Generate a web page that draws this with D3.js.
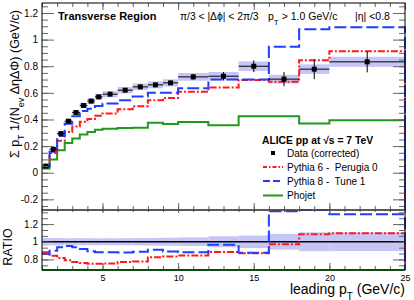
<!DOCTYPE html>
<html>
<head>
<meta charset="utf-8">
<script src="https://cdn.jsdelivr.net/npm/d3@7"></script>
<style>
body { margin: 0; background: #fff; }
text { font-family: "Liberation Sans", Arial, sans-serif; }
</style>
</head>
<body>
<div id="chart"></div>
<script>
// leading pT bin edges (GeV/c)
var edges = [1, 1.5, 2, 2.5, 3, 3.5, 4, 4.5, 5, 6, 7, 8, 9, 10, 12, 14, 16, 18, 20, 25];
var dataVal  = [0.050, 0.176, 0.294, 0.387, 0.452, 0.505, 0.538, 0.570, 0.590, 0.620, 0.645, 0.660, 0.675, 0.720, 0.725, 0.800, 0.703, 0.778, 0.833];
var dataStat = [0.001, 0.002, 0.003, 0.003, 0.004, 0.004, 0.005, 0.005, 0.005, 0.007, 0.009, 0.012, 0.015, 0.020, 0.032, 0.044, 0.054, 0.075, 0.079];
var dataSys  = [0.002, 0.007, 0.012, 0.015, 0.018, 0.020, 0.021, 0.022, 0.023, 0.024, 0.025, 0.026, 0.027, 0.029, 0.032, 0.036, 0.033, 0.036, 0.038];
var pythia6  = [0.044, 0.148, 0.240, 0.306, 0.348, 0.383, 0.404, 0.428, 0.445, 0.477, 0.500, 0.545, 0.562, 0.608, 0.640, 0.696, 0.683, 0.845, 0.913];
var pythia8  = [0.043, 0.158, 0.276, 0.368, 0.424, 0.463, 0.480, 0.502, 0.520, 0.545, 0.572, 0.600, 0.600, 0.635, 0.700, 0.700, 0.946, 1.077, 1.092];
var phojet   = [0.031, 0.100, 0.168, 0.224, 0.257, 0.287, 0.306, 0.322, 0.330, 0.336, 0.338, 0.376, 0.366, 0.381, 0.356, 0.425, 0.425, 0.370, 0.394];

var xTicks = [5, 10, 15, 20, 25];
var yTicks = [-0.2, 0, 0.2, 0.4, 0.6, 0.8, 1, 1.2];
var ratioTicks = [0.8, 1, 1.2];

var width = 414, height = 300;
var svg = d3.select("#chart").append("svg")
    .attr("width", width)
    .attr("height", height);

var x = d3.scaleLinear().domain([1, 25]).range([42, 405]);
var y = d3.scaleLinear().domain([-0.28, 1.275]).range([210, 3]);
var yr = d3.scaleLinear().domain([0.68, 1.36]).range([270, 210]);

var blue = "#1f3fff", red = "#ff1a1a", green = "#1f9a1f", band = "#c6c6f6";

function clampTo(scale, v) {
  var d = scale.domain();
  return scale(Math.max(d[0], Math.min(d[1], v)));
}

// step outline of a histogram, dropping to the frame bottom after the last bin
function stepPath(vals, scale) {
  var pts = [[x(edges[0]), clampTo(scale, vals[0])]];
  vals.forEach(function(v, i) {
    pts.push([x(edges[i + 1]), clampTo(scale, v)]);
    if (i + 1 < vals.length) pts.push([x(edges[i + 1]), clampTo(scale, vals[i + 1])]);
  });
  pts.push([x(edges[edges.length - 1]), scale.range()[0]]);
  return d3.line()(pts);
}

var bins = dataVal.map(function(v, i) {
  return { lo: edges[i], hi: edges[i + 1], v: v, stat: dataStat[i], sys: dataSys[i],
           p6: pythia6[i], p8: pythia8[i], ph: phojet[i] };
});

// ---------- top panel ----------
var topG = svg.append("g");

topG.selectAll(".sys").data(bins).enter().append("rect")
  .attr("class", "sys")
  .attr("x", function(d) { return x(d.lo); })
  .attr("width", function(d) { return x(d.hi) - x(d.lo); })
  .attr("y", function(d) { return y(d.v + d.sys); })
  .attr("height", function(d) { return y(d.v - d.sys) - y(d.v + d.sys); })
  .attr("fill", band);

var curves = [
  { key: "ph", color: green, dash: null },
  { key: "p6", color: red, dash: "7,2,2,2" },
  { key: "p8", color: blue, dash: "12,4" }
];

curves.forEach(function(c) {
  topG.append("path")
    .attr("d", stepPath(bins.map(function(d) { return d[c.key]; }), y))
    .attr("fill", "none")
    .attr("stroke", c.color)
    .attr("stroke-width", 2)
    .attr("stroke-dasharray", c.dash);
});

topG.selectAll(".hbar").data(bins).enter().append("line")
  .attr("x1", function(d) { return x(d.lo); })
  .attr("x2", function(d) { return x(d.hi); })
  .attr("y1", function(d) { return y(d.v); })
  .attr("y2", function(d) { return y(d.v); })
  .attr("stroke", "#000");

topG.selectAll(".vbar").data(bins).enter().append("line")
  .attr("x1", function(d) { return x((d.lo + d.hi) / 2); })
  .attr("x2", function(d) { return x((d.lo + d.hi) / 2); })
  .attr("y1", function(d) { return y(d.v - d.stat); })
  .attr("y2", function(d) { return y(d.v + d.stat); })
  .attr("stroke", "#000");

topG.selectAll(".pt").data(bins).enter().append("rect")
  .attr("x", function(d) { return x((d.lo + d.hi) / 2) - 2.5; })
  .attr("y", function(d) { return y(d.v) - 2.5; })
  .attr("width", 5).attr("height", 5)
  .attr("fill", "#000");

// ---------- ratio panel ----------
var ratG = svg.append("g");

ratG.selectAll(".rband").data(bins).enter().append("rect")
  .attr("x", function(d) { return x(d.lo); })
  .attr("width", function(d) { return x(d.hi) - x(d.lo); })
  .attr("y", function(d) { return yr(1 + Math.sqrt(d.stat * d.stat + d.sys * d.sys) / d.v); })
  .attr("height", function(d) {
    var e = Math.sqrt(d.stat * d.stat + d.sys * d.sys) / d.v;
    return yr(1 - e) - yr(1 + e);
  })
  .attr("fill", band);

ratG.append("line")
  .attr("x1", x(1)).attr("x2", x(25))
  .attr("y1", yr(1)).attr("y2", yr(1))
  .attr("stroke", "#000").attr("stroke-width", 1.5);

curves.forEach(function(c) {
  ratG.append("path")
    .attr("d", stepPath(bins.map(function(d) { return d[c.key] / d.v; }), yr))
    .attr("fill", "none")
    .attr("stroke", c.color)
    .attr("stroke-width", 2)
    .attr("stroke-dasharray", c.dash);
});

// ---------- axes ----------
function fmt(d) { return String(+d.toFixed(1)); }

function drawAxis(axisFn, scale, pos, values, size, labels) {
  var a = axisFn(scale).tickValues(values).tickSizeInner(-size).tickSizeOuter(0).tickPadding(4);
  a.tickFormat(labels ? fmt : "");
  var g = svg.append("g").attr("transform", pos).call(a);
  g.attr("font-family", null).attr("font-size", 10);
  g.select(".domain").remove();
  g.selectAll(".tick line").attr("stroke", "#666");
  g.selectAll(".tick text").attr("fill", "#000");
  return g;
}

var xMinor = d3.range(1, 26, 1);
var yMinor = d3.range(-0.25, 1.27, 0.05);
var rMinor = d3.range(-1, 10).map(function(k) { return 0.8 + k * 0.2 / 3; })
  .filter(function(v) { return v > 0.68 && v < 1.36; });

// top panel
drawAxis(d3.axisLeft, y, "translate(42,0)", yMinor, 6, false);
drawAxis(d3.axisLeft, y, "translate(42,0)", yTicks, 12, true);
drawAxis(d3.axisRight, y, "translate(405,0)", yMinor, 6, false);
drawAxis(d3.axisRight, y, "translate(405,0)", yTicks, 12, false);
drawAxis(d3.axisTop, x, "translate(0,3)", xMinor, 4, false);
drawAxis(d3.axisTop, x, "translate(0,3)", xTicks, 7, false);
drawAxis(d3.axisBottom, x, "translate(0,210)", xMinor, 4, false);
drawAxis(d3.axisBottom, x, "translate(0,210)", xTicks, 7, false);
// ratio panel
drawAxis(d3.axisLeft, yr, "translate(42,0)", rMinor, 6, false);
drawAxis(d3.axisLeft, yr, "translate(42,0)", ratioTicks, 12, true);
drawAxis(d3.axisRight, yr, "translate(405,0)", rMinor, 6, false);
drawAxis(d3.axisRight, yr, "translate(405,0)", ratioTicks, 12, false);
drawAxis(d3.axisTop, x, "translate(0,210)", xMinor, 2, false);
drawAxis(d3.axisTop, x, "translate(0,210)", xTicks, 3, false);
drawAxis(d3.axisBottom, x, "translate(0,270)", xMinor, 4, false);
drawAxis(d3.axisBottom, x, "translate(0,270)", xTicks, 7, true)
  .attr("font-size", 9)
  .selectAll(".tick text").attr("dy", null).attr("y", 10.5);

// frames
svg.append("rect").attr("x", 42).attr("y", 3).attr("width", 363).attr("height", 207)
  .attr("fill", "none").attr("stroke", "#000");
svg.append("rect").attr("x", 42).attr("y", 210).attr("width", 363).attr("height", 60)
  .attr("fill", "none").attr("stroke", "#000");
svg.append("line").attr("x1", 42).attr("x2", 405).attr("y1", 210).attr("y2", 210)
  .attr("stroke", "#777");

// ---------- titles ----------
var yTitle = svg.append("text")
  .attr("transform", "translate(19,84) rotate(-90)")
  .attr("text-anchor", "middle")
  .attr("font-size", 12.5);
yTitle.append("tspan").text("Σ p");
yTitle.append("tspan").attr("baseline-shift", "sub").attr("font-size", 9).text("T");
yTitle.append("tspan").text(" 1/(N");
yTitle.append("tspan").attr("baseline-shift", "sub").attr("font-size", 9).text("ev");
yTitle.append("tspan").text(" ΔηΔΦ) (GeV/c)");

svg.append("text")
  .attr("transform", "translate(12,247) rotate(-90)")
  .attr("text-anchor", "middle")
  .attr("font-size", 12.5)
  .text("RATIO");

var xTitle = svg.append("text")
  .attr("x", 405).attr("y", 294)
  .attr("text-anchor", "end")
  .attr("font-size", 14);
xTitle.append("tspan").text("leading p");
xTitle.append("tspan").attr("baseline-shift", "sub").attr("font-size", 10).text("T");
xTitle.append("tspan").text(" (GeV/c)");

svg.append("text").attr("x", 58).attr("y", 19.5)
  .attr("font-size", 11).attr("font-weight", "bold").text("Transverse Region");
svg.append("text").attr("x", 180).attr("y", 20)
  .attr("font-size", 10.3).text("π/3 < |Δϕ| < 2π/3");
var ptCut = svg.append("text").attr("x", 268).attr("y", 20).attr("font-size", 10.5);
ptCut.append("tspan").text("p");
ptCut.append("tspan").attr("baseline-shift", "sub").attr("font-size", 8).text("T");
ptCut.append("tspan").text(" > 1.0 GeV/c");
svg.append("text").attr("x", 355).attr("y", 20)
  .attr("font-size", 10.5).text("|η| <0.8");

// ---------- legend ----------
svg.append("text").attr("x", 262).attr("y", 143.5)
  .attr("font-size", 10.3).attr("font-weight", "bold").text("ALICE pp at √s = 7 TeV");

var legend = [
  { label: "Data (corrected)", y: 153, type: "marker" },
  { label: "Pythia 6 -  Perugia 0", y: 167, color: red, dash: "4,2,1.5,2" },
  { label: "Pythia 8 -  Tune 1", y: 181, color: blue, dash: "7,3" },
  { label: "Phojet", y: 195.5, color: green, dash: null }
];

legend.forEach(function(d) {
  if (d.type === "marker") {
    svg.append("rect").attr("x", 271).attr("y", d.y - 2).attr("width", 4).attr("height", 4).attr("fill", "#000");
  } else {
    svg.append("line").attr("x1", 263).attr("x2", 283).attr("y1", d.y).attr("y2", d.y)
      .attr("stroke", d.color).attr("stroke-width", 2).attr("stroke-dasharray", d.dash);
  }
  svg.append("text").attr("x", 287).attr("y", d.y + 3.5)
    .attr("font-size", 10).style("white-space", "pre").text(d.label);
});
</script>
</body>
</html>
